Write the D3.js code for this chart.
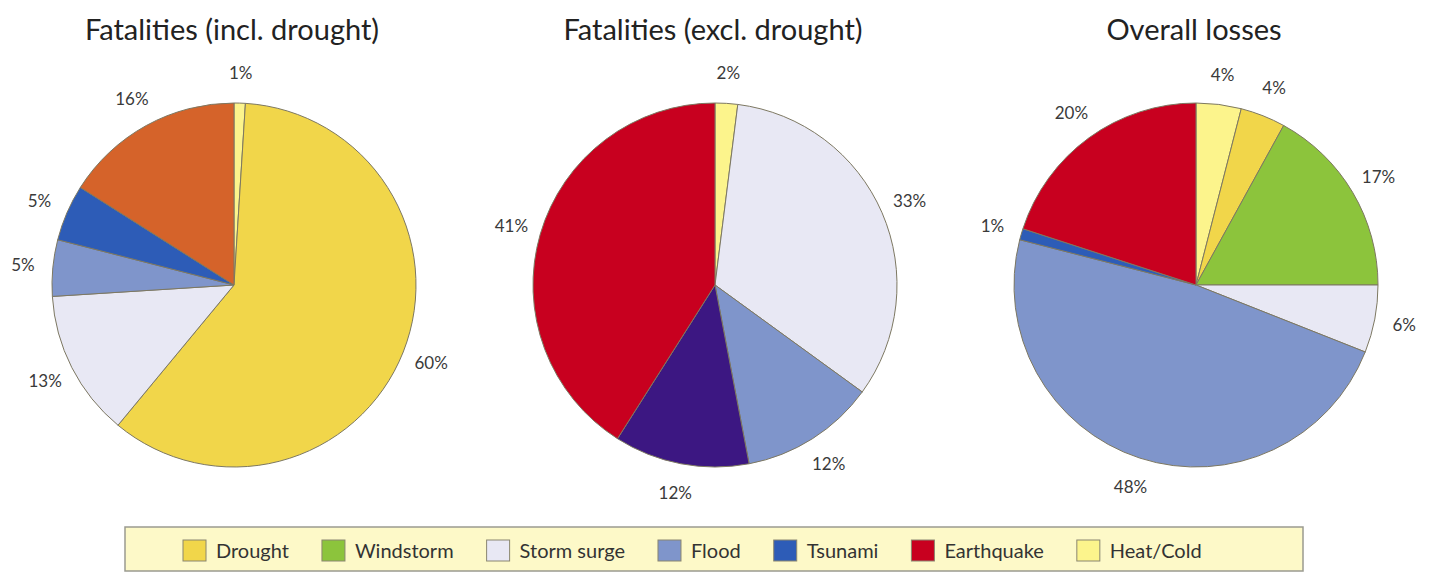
<html>
<head>
<script src="https://d3js.org/d3.v7.min.js"></script>
<style>
  body { margin: 0; background: #fff; }
  text { font-family: Lato, "Open Sans", sans-serif; }
</style>
</head>
<body>
<script>
    var width = 1430
    var height = 573

    // chart data
    var titles = ['Fatalities (incl. drought)', 'Fatalities (excl. drought)', 'Overall losses']
    var categories = ['Drought', 'Windstorm', 'Storm surge', 'Flood', 'Tsunami', 'Earthquake', 'Heat/Cold']

    // slices, clockwise from 12 o'clock
    var inclKeys = ['Heat/Cold', 'Drought', 'Storm surge', 'Flood', 'Tsunami', 'Earthquake']
    var inclValues = [1, 60, 13, 5, 5, 16]

    var exclKeys = ['Heat/Cold', 'Storm surge', 'Flood', 'Tsunami', 'Earthquake']
    var exclValues = [2, 33, 12, 12, 41]

    var lossKeys = ['Heat/Cold', 'Drought', 'Windstorm', 'Storm surge', 'Flood', 'Tsunami', 'Earthquake']
    var lossValues = [4, 4, 17, 6, 48, 1, 20]

    var colour = d3.scaleOrdinal()
        .domain(categories)
        .range(['#f1d64a', '#8cc43c', '#e8e8f4', '#7f95cb', '#2d5cb7', '#c8001f', '#fcf48c'])

    // the source draws a few slices in other shades than the legend
    var overrides = [{'Earthquake': '#d5632a'}, {'Tsunami': '#3c1782'}, {}]

    var pies = [
        {keys: inclKeys, values: inclValues},
        {keys: exclKeys, values: exclValues},
        {keys: lossKeys, values: lossValues}
    ]

    var svg = d3.select('body').append('svg').attr('width', width).attr('height', height)

    var cx = d3.scalePoint().domain(d3.range(pies.length)).range([234, 1196])
    var cy = 285
    var radius = 182

    var pie = d3.pie().sort(null).value(function(d){ return d.value })
    var arc = d3.arc().innerRadius(0).outerRadius(radius)
    var labelArc = d3.arc().innerRadius(radius + 30).outerRadius(radius + 30)

    pies.forEach(function(p, i) {
        var rows = p.keys.map(function(k, j){ return {key: k, value: p.values[j]} })
        var g = svg.append('g').attr('transform', `translate(${cx(i)}, ${cy})`)

        svg.append('text')
            .attr('x', cx(i) - 2)
            .attr('y', 40)
            .attr('text-anchor', 'middle')
            .attr('font-size', 29)
            .attr('fill', '#222')
            .text(titles[i])

        g.selectAll('path').data(pie(rows)).enter().append('path')
            .attr('d', arc)
            .attr('fill', function(d){ return overrides[i][d.data.key] || colour(d.data.key) })
            .attr('stroke', '#7d7862')
            .attr('stroke-width', 1)

        g.selectAll('text').data(pie(rows)).enter().append('text')
            .attr('transform', function(d){ return `translate(${labelArc.centroid(d)})` })
            .attr('text-anchor', 'middle')
            .attr('dy', '0.35em')
            .attr('font-size', 17)
            .attr('fill', '#3a3a3a')
            .text(function(d){ return d.data.value + '%' })
    })

    // legend
    var legend = svg.append('g')
    legend.append('rect')
        .attr('x', 125).attr('y', 527)
        .attr('width', 1178).attr('height', 44)
        .attr('fill', '#fdf9c8')
        .attr('stroke', '#9a9a90')
        .attr('stroke-width', 1.5)

    var lx = 183
    categories.forEach(function(c) {
        legend.append('rect')
            .attr('x', lx).attr('y', 540)
            .attr('width', 23).attr('height', 21)
            .attr('fill', colour(c))
            .attr('stroke', '#8a8670')
            .attr('stroke-width', 1)
        var t = legend.append('text')
            .attr('x', lx + 33).attr('y', 558)
            .attr('font-size', 20)
            .attr('fill', '#333')
            .text(c)
        lx = lx + 33 + t.node().getComputedTextLength() + 33
    })
</script>
</body>
</html>
